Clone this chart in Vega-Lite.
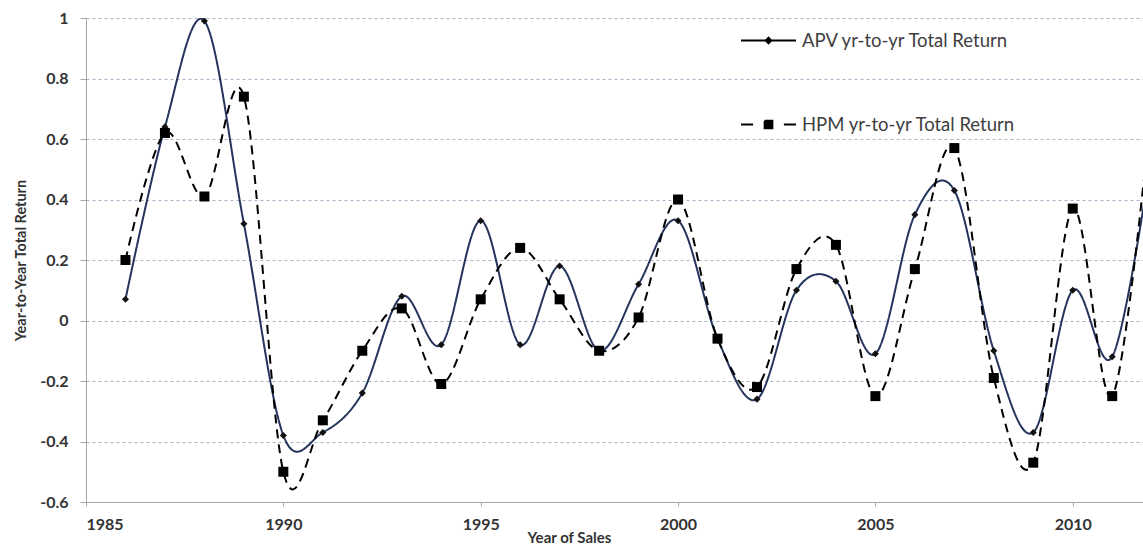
{
  "$schema": "https://vega.github.io/schema/vega-lite/v6.json",
  "width": 1057,
  "height": 484,
  "autosize": {"type": "none"},
  "padding": {"left": 86, "top": 18, "right": 0, "bottom": 45},
  "background": "white",
  "config": {"view": {"stroke": null}, "font": "Lato"},
  "data": {
    "values": [
      {"year": 1986, "series": "APV yr-to-yr Total Return", "value": 0.07},
      {"year": 1987, "series": "APV yr-to-yr Total Return", "value": 0.64},
      {"year": 1988, "series": "APV yr-to-yr Total Return", "value": 0.99},
      {"year": 1989, "series": "APV yr-to-yr Total Return", "value": 0.32},
      {"year": 1990, "series": "APV yr-to-yr Total Return", "value": -0.38},
      {"year": 1991, "series": "APV yr-to-yr Total Return", "value": -0.37},
      {"year": 1992, "series": "APV yr-to-yr Total Return", "value": -0.24},
      {"year": 1993, "series": "APV yr-to-yr Total Return", "value": 0.08},
      {"year": 1994, "series": "APV yr-to-yr Total Return", "value": -0.08},
      {"year": 1995, "series": "APV yr-to-yr Total Return", "value": 0.33},
      {"year": 1996, "series": "APV yr-to-yr Total Return", "value": -0.08},
      {"year": 1997, "series": "APV yr-to-yr Total Return", "value": 0.18},
      {"year": 1998, "series": "APV yr-to-yr Total Return", "value": -0.1},
      {"year": 1999, "series": "APV yr-to-yr Total Return", "value": 0.12},
      {"year": 2000, "series": "APV yr-to-yr Total Return", "value": 0.33},
      {"year": 2001, "series": "APV yr-to-yr Total Return", "value": -0.06},
      {"year": 2002, "series": "APV yr-to-yr Total Return", "value": -0.26},
      {"year": 2003, "series": "APV yr-to-yr Total Return", "value": 0.1},
      {"year": 2004, "series": "APV yr-to-yr Total Return", "value": 0.13},
      {"year": 2005, "series": "APV yr-to-yr Total Return", "value": -0.11},
      {"year": 2006, "series": "APV yr-to-yr Total Return", "value": 0.35},
      {"year": 2007, "series": "APV yr-to-yr Total Return", "value": 0.43},
      {"year": 2008, "series": "APV yr-to-yr Total Return", "value": -0.1},
      {"year": 2009, "series": "APV yr-to-yr Total Return", "value": -0.37},
      {"year": 2010, "series": "APV yr-to-yr Total Return", "value": 0.1},
      {"year": 2011, "series": "APV yr-to-yr Total Return", "value": -0.12},
      {"year": 2012, "series": "APV yr-to-yr Total Return", "value": 0.55},
      {"year": 1986, "series": "HPM yr-to-yr Total Return", "value": 0.2},
      {"year": 1987, "series": "HPM yr-to-yr Total Return", "value": 0.62},
      {"year": 1988, "series": "HPM yr-to-yr Total Return", "value": 0.41},
      {"year": 1989, "series": "HPM yr-to-yr Total Return", "value": 0.74},
      {"year": 1990, "series": "HPM yr-to-yr Total Return", "value": -0.5},
      {"year": 1991, "series": "HPM yr-to-yr Total Return", "value": -0.33},
      {"year": 1992, "series": "HPM yr-to-yr Total Return", "value": -0.1},
      {"year": 1993, "series": "HPM yr-to-yr Total Return", "value": 0.04},
      {"year": 1994, "series": "HPM yr-to-yr Total Return", "value": -0.21},
      {"year": 1995, "series": "HPM yr-to-yr Total Return", "value": 0.07},
      {"year": 1996, "series": "HPM yr-to-yr Total Return", "value": 0.24},
      {"year": 1997, "series": "HPM yr-to-yr Total Return", "value": 0.07},
      {"year": 1998, "series": "HPM yr-to-yr Total Return", "value": -0.1},
      {"year": 1999, "series": "HPM yr-to-yr Total Return", "value": 0.01},
      {"year": 2000, "series": "HPM yr-to-yr Total Return", "value": 0.4},
      {"year": 2001, "series": "HPM yr-to-yr Total Return", "value": -0.06},
      {"year": 2002, "series": "HPM yr-to-yr Total Return", "value": -0.22},
      {"year": 2003, "series": "HPM yr-to-yr Total Return", "value": 0.17},
      {"year": 2004, "series": "HPM yr-to-yr Total Return", "value": 0.25},
      {"year": 2005, "series": "HPM yr-to-yr Total Return", "value": -0.25},
      {"year": 2006, "series": "HPM yr-to-yr Total Return", "value": 0.17},
      {"year": 2007, "series": "HPM yr-to-yr Total Return", "value": 0.57},
      {"year": 2008, "series": "HPM yr-to-yr Total Return", "value": -0.19},
      {"year": 2009, "series": "HPM yr-to-yr Total Return", "value": -0.47},
      {"year": 2010, "series": "HPM yr-to-yr Total Return", "value": 0.37},
      {"year": 2011, "series": "HPM yr-to-yr Total Return", "value": -0.25},
      {"year": 2012, "series": "HPM yr-to-yr Total Return", "value": 0.72}
    ]
  },
  "encoding": {
    "x": {
      "field": "year",
      "type": "quantitative",
      "scale": {"domain": [1985, 2011.78], "nice": false, "zero": false},
      "axis": {
        "values": [1985, 1990, 1995, 2000, 2005, 2010],
        "format": "d",
        "grid": false,
        "labelFont": "Lato",
        "labelFontWeight": "bold",
        "labelFontSize": 16,
        "labelColor": "#333333",
        "labelPadding": 10,
        "domainColor": "#a6a6a6",
        "tickColor": "#a6a6a6",
        "tickSize": 4,
        "title": "Year of Sales",
        "titleFont": "Lato",
        "titleFontWeight": "bold",
        "titleFontSize": 15,
        "titleColor": "#333333",
        "titleX": 483,
        "titleY": 28,
        "titleBaseline": "top"
      }
    },
    "y": {
      "field": "value",
      "type": "quantitative",
      "scale": {"domain": [-0.6, 1], "nice": false},
      "axis": {
        "values": [-0.6, -0.4, -0.2, 0, 0.2, 0.4, 0.6, 0.8, 1],
        "labelExpr": "toString(datum.value)",
        "grid": true,
        "gridColor": "#a9b0c6",
        "gridDash": [3, 3],
        "labelFont": "Lato",
        "labelFontWeight": "bold",
        "labelFontSize": 16,
        "labelColor": "#333333",
        "labelPadding": 12,
        "domainColor": "#a6a6a6",
        "tickColor": "#a6a6a6",
        "tickSize": 6,
        "title": "Year-to-Year Total Return",
        "titleFont": "Lato",
        "titleFontWeight": "bold",
        "titleFontSize": 14.5,
        "titleColor": "#333333",
        "titlePadding": 11
      }
    }
  },
  "layer": [
    {
      "mark": {"type": "line", "interpolate": "cardinal", "clip": true, "strokeWidth": 2},
      "encoding": {
        "color": {"field": "series", "type": "nominal", "scale": {"range": ["#24345c", "#000000"]}, "legend": null},
        "strokeDash": {"field": "series", "type": "nominal", "scale": {"range": [[1, 0], [9, 6]]}, "legend": null}
      }
    },
    {
      "transform": [{"filter": "datum.series === 'APV yr-to-yr Total Return'"}],
      "mark": {"type": "point", "shape": "diamond", "size": 50, "filled": true, "color": "#111111", "opacity": 1, "clip": true}
    },
    {
      "transform": [{"filter": "datum.series === 'HPM yr-to-yr Total Return'"}],
      "mark": {"type": "point", "shape": "square", "size": 100, "filled": true, "color": "#000000", "opacity": 1, "clip": true}
    },
    {
      "mark": {"type": "point", "filled": false, "color": "#000000", "opacity": 0, "strokeWidth": 2, "clip": true},
      "encoding": {
        "shape": {
          "field": "series",
          "type": "nominal",
          "scale": {"range": [
            "M-1,0H1M0,-0.1L0.1,0L0,0.1L-0.1,0ZM0,-0.05L0.05,0L0,0.05L-0.05,0Z",
            "M-1,0H-0.56M-0.14,-0.14H0.14V-0.07H-0.14V0H0.14V0.07H-0.14V0.14H0.14V-0.14M-0.14,-0.14V0.14M0.56,0H1"
          ]},
          "legend": {
            "orient": "none",
            "legendX": 654,
            "legendY": -6,
            "title": null,
            "direction": "vertical",
            "padding": 0,
            "symbolSize": 3025,
            "symbolStrokeWidth": 2,
            "symbolOpacity": 1,
            "labelFont": "Lato",
            "labelFontSize": 18.5,
            "labelColor": "#404040",
            "labelOffset": 5,
            "labelLimit": 400,
            "rowPadding": 46,
            "encode": {
              "symbols": {
                "update": {
                  "stroke": {"signal": "datum.value === 'APV yr-to-yr Total Return' ? '#24345c' : '#000000'"},
                  "strokeWidth": {"value": 2},
                  "opacity": {"value": 1}
                }
              }
            }
          }
        }
      }
    }
  ]
}
